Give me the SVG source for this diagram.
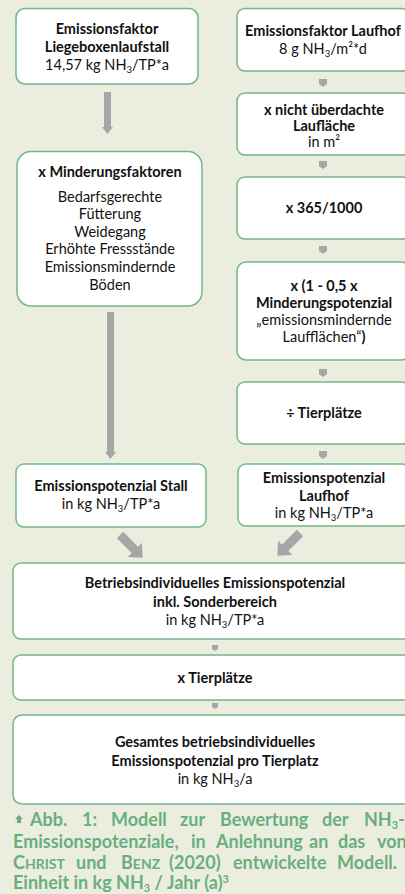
<svg xmlns="http://www.w3.org/2000/svg" width="405" height="894" viewBox="0 0 405 894">
<style>
.box{fill:#ffffff;stroke:#72b68a;stroke-width:1.5}
.t{font-family:Lato,"Open Sans",sans-serif;font-size:14.5px;fill:#111;text-anchor:middle}
.b{font-weight:bold}
.cap{font-family:Lato,"Open Sans",sans-serif;font-size:18px;font-weight:bold;fill:#6aae7e}
.arr{fill:#a6a6a6}
.sub{font-size:9.5px}
.sc{font-size:14px}
</style>
<rect width="405" height="894" fill="#ebeedf"/>
<g id="connectors">
<polygon class="arr" points="104,92 111,92 111,127 113,127 107.5,134 102,127 104,127"/>
<polygon class="arr" points="107,312 114,312 114,452 116,452 110.5,459 105,452 107,452"/>
<polygon class="arr" points="319,79 327,79 327,84 323,87 319,84"/>
<polygon class="arr" points="319,161 327,161 327,166 323,169 319,166"/>
<polygon class="arr" points="319,246 327,246 327,251 323,254 319,251"/>
<polygon class="arr" points="319,369 327,369 327,374 323,377 319,374"/>
<polygon class="arr" points="319,451 327,451 327,456 323,459 319,456"/>
<polygon class="arr" points="212,645 218,645 218,649 215,651 212,649"/>
<polygon class="arr" points="212,703 218,703 218,707 215,709 212,707"/>
<polygon class="arr" transform="translate(120,535) rotate(45)" points="0,-4.5 21,-4.5 21,-10 32,0 21,10 21,4.5 0,4.5"/>
<polygon class="arr" transform="translate(300,533) rotate(135)" points="0,-4.5 21,-4.5 21,-10 32,0 21,10 21,4.5 0,4.5"/>
</g>
<g id="n1">
<rect class="box" x="16" y="8.5" width="182" height="75.5" rx="9"/>
<text class="t b" x="107" y="33.5">Emissionsfaktor</text>
<text class="t b" x="107" y="51.5">Liegeboxenlaufstall</text>
<text class="t" x="107" y="69.5">14,57 kg NH<tspan class="sub" dy="3">3</tspan><tspan dy="-3">/TP*a</tspan></text>
</g>
<g id="n2">
<rect class="box" x="17" y="151.5" width="185" height="154.5" rx="14"/>
<text class="t b" x="110" y="177">x Minderungsfaktoren</text>
<text class="t" x="110" y="202">Bedarfsgerechte</text>
<text class="t" x="110" y="219">Fütterung</text>
<text class="t" x="110" y="237">Weidegang</text>
<text class="t" x="110" y="254">Erhöhte Fressstände</text>
<text class="t" x="110" y="272">Emissionsmindernde</text>
<text class="t" x="110" y="290">Böden</text>
</g>
<g id="n3">
<rect class="box" x="16" y="464" width="190" height="63" rx="8"/>
<text class="t b" x="111" y="491">Emissionspotenzial Stall</text>
<text class="t" x="111" y="509">in kg NH<tspan class="sub" dy="3">3</tspan><tspan dy="-3">/TP*a</tspan></text>
</g>
<g id="r1">
<rect class="box" x="237" y="8.5" width="173" height="62.5" rx="8"/>
<text class="t b" x="323" y="36">Emissionsfaktor Laufhof</text>
<text class="t" x="323" y="54">8 g NH<tspan class="sub" dy="3">3</tspan><tspan dy="-3">/m²*d</tspan></text>
</g>
<g id="r2">
<rect class="box" x="237" y="93" width="173" height="62" rx="8"/>
<text class="t b" x="324" y="115">x nicht überdachte</text>
<text class="t b" x="324" y="130.5">Laufläche</text>
<text class="t" x="324" y="146.5">in m²</text>
</g>
<g id="r3">
<rect class="box" x="237" y="177" width="173" height="62" rx="8"/>
<text class="t b" x="324" y="213">x 365/1000</text>
</g>
<g id="r4">
<rect class="box" x="237" y="262" width="173" height="98" rx="9"/>
<text class="t b" x="324" y="291">x (1 - 0,5 x</text>
<text class="t b" x="324" y="308">Minderungspotenzial</text>
<text class="t" x="324" y="325">„emissionsmindernde</text>
<text class="t" x="324" y="342">Laufflächen“<tspan class="b">)</tspan></text>
</g>
<g id="r5">
<rect class="box" x="237" y="382" width="173" height="62" rx="8"/>
<text class="t b" x="324" y="418">÷ Tierplätze</text>
</g>
<g id="r6">
<rect class="box" x="238" y="464" width="172" height="62" rx="8"/>
<text class="t b" x="324" y="483">Emissionspotenzial</text>
<text class="t b" x="324" y="501">Laufhof</text>
<text class="t" x="324" y="518">in kg NH<tspan class="sub" dy="3">3</tspan><tspan dy="-3">/TP*a</tspan></text>
</g>
<g id="w1">
<rect class="box" x="13" y="563" width="404" height="76" rx="8"/>
<text class="t b" x="215" y="588">Betriebsindividuelles Emissionspotenzial</text>
<text class="t b" x="215" y="607">inkl. Sonderbereich</text>
<text class="t" x="215" y="625">in kg NH<tspan class="sub" dy="3">3</tspan><tspan dy="-3">/TP*a</tspan></text>
</g>
<g id="w2">
<rect class="box" x="13" y="655" width="404" height="45" rx="8"/>
<text class="t b" x="215" y="683">x Tierplätze</text>
</g>
<g id="w3">
<rect class="box" x="13" y="715" width="404" height="89" rx="9"/>
<text class="t b" x="215" y="747">Gesamtes betriebsindividuelles</text>
<text class="t b" x="215" y="766">Emissionspotenzial pro Tierplatz</text>
<text class="t" x="215" y="784">in kg NH<tspan class="sub" dy="3">3</tspan><tspan dy="-3">/a</tspan></text>
</g>
<g id="caption">
<polygon points="19,815 23,819 21,819 21,823 17,823 17,819 15,819" fill="#6aae7e"/>
<text class="cap" y="826"><tspan x="30">Abb.</tspan><tspan x="82">1:</tspan><tspan x="111">Modell</tspan><tspan x="180">zur</tspan><tspan x="220">Bewertung</tspan><tspan x="322">der</tspan><tspan x="364">NH</tspan><tspan font-size="11" dy="3">3</tspan><tspan dy="-3">-</tspan></text>
<text class="cap" y="847.5"><tspan x="13">Emissionspotenziale,</tspan><tspan x="191">in</tspan><tspan x="216">Anlehnung</tspan><tspan x="309">an</tspan><tspan x="338">das</tspan><tspan x="377">von</tspan></text>
<text class="cap" y="869"><tspan x="13">C</tspan><tspan class="sc">HRIST</tspan><tspan x="76">und</tspan><tspan x="121">B</tspan><tspan class="sc">ENZ</tspan><tspan x="169">(2020)</tspan><tspan x="233">entwickelte</tspan><tspan x="337">Modell.</tspan></text>
<text class="cap" x="13" y="889">Einheit in kg NH<tspan font-size="11" dy="3">3</tspan><tspan dy="-3"> / Jahr (a)</tspan><tspan font-size="11" dy="-6">3</tspan></text>
</g>
</svg>
